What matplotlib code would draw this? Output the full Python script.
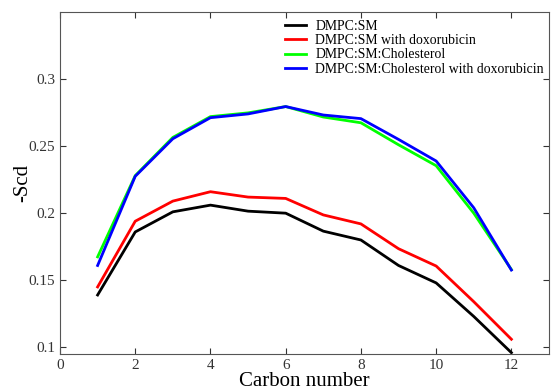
import matplotlib
matplotlib.use("Agg")
import matplotlib.pyplot as plt

plt.rcParams["font.family"] = ["Liberation Serif", "DejaVu Serif"]

carbon = [1, 2, 3, 4, 5, 6, 7, 8, 9, 10, 11, 12]
dmpc_sm = [0.139, 0.186, 0.201, 0.206, 0.2015, 0.200, 0.1866, 0.180, 0.161, 0.148, 0.123, 0.096]
dmpc_sm_dox = [0.145, 0.194, 0.209, 0.216, 0.212, 0.211, 0.1987, 0.192, 0.1735, 0.1606, 0.134, 0.106]
dmpc_sm_chol = [0.1674, 0.228, 0.2565, 0.272, 0.2748, 0.2795, 0.2717, 0.2674, 0.251, 0.2354, 0.200, 0.158]
dmpc_sm_chol_dox = [0.161, 0.2275, 0.2555, 0.2712, 0.274, 0.2795, 0.2732, 0.2705, 0.255, 0.2389, 0.204, 0.1576]

series = [
    ("DMPC:SM", dmpc_sm, "black"),
    ("DMPC:SM with doxorubicin", dmpc_sm_dox, "#ff0000"),
    ("DMPC:SM:Cholesterol", dmpc_sm_chol, "#00ff00"),
    ("DMPC:SM:Cholesterol with doxorubicin", dmpc_sm_chol_dox, "#0000ff"),
]

fig = plt.figure(figsize=(5.51, 3.91), dpi=100)
ax = fig.add_axes([60 / 551, 1 - 354 / 391, 489 / 551, 342 / 391])

for label, vals, color in series:
    ax.plot(carbon, vals, color=color, lw=2, label=label)

ax.set_xlim(0, 13)
ax.set_ylim(0.095, 0.35)
ax.set_xticks([0, 2, 4, 6, 8, 10, 12])
ax.set_yticks([0.1, 0.15, 0.2, 0.25, 0.3])
ax.set_yticklabels(["0.1", "0.15", "0.2", "0.25", "0.3"])
ax.tick_params(direction="in", top=True, right=True, labelsize=11, colors="#333333", length=4)
for sp in ax.spines.values():
    sp.set_color("#555555")

ax.set_xlabel("Carbon number", fontsize=15, labelpad=0)
ax.set_ylabel("-Scd", fontsize=15, labelpad=-3)

ax.legend(loc="upper left", bbox_to_anchor=(0.445, 1.0), frameon=False, fontsize=9.9,
          handlelength=1.5, handletextpad=0.7, labelspacing=0.1, borderaxespad=0.15)

fig.savefig("out.png", dpi=100)
